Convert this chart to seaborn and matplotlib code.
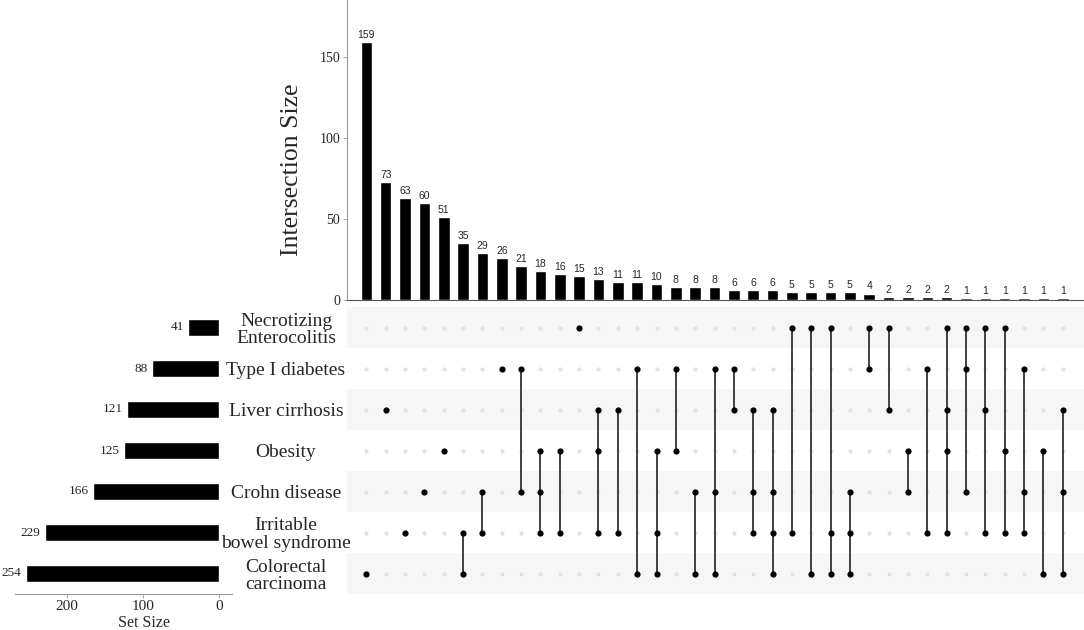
import numpy as np
import pandas as pd
import matplotlib
matplotlib.use("Agg")
import matplotlib.pyplot as plt
import seaborn as sns

# ---------------- data ----------------
set_codes = ["NEC", "T1D", "LC", "OB", "CD", "IBS", "CRC"]
set_names = ["Necrotizing\nEnterocolitis", "Type I diabetes", "Liver cirrhosis",
             "Obesity", "Crohn disease", "Irritable\nbowel syndrome",
             "Colorectal\ncarcinoma"]
set_sizes = [41, 88, 121, 125, 166, 229, 254]

intersection_sizes = [159, 73, 63, 60, 51, 35, 29, 26, 21, 18, 16, 15, 13, 11, 11,
                      10, 8, 8, 8, 6, 6, 6, 5, 5, 5, 5, 4, 2, 2, 2, 2,
                      1, 1, 1, 1, 1, 1]
intersection_members = [
    ["CRC"], ["LC"], ["IBS"], ["CD"], ["OB"], ["IBS", "CRC"], ["CD", "IBS"],
    ["T1D"], ["T1D", "CD"], ["OB", "CD", "IBS"], ["OB", "IBS"], ["NEC"],
    ["LC", "OB", "IBS"], ["LC", "IBS"], ["T1D", "CRC"], ["OB", "IBS", "CRC"],
    ["T1D", "OB"], ["CD", "CRC"], ["T1D", "CD", "CRC"], ["T1D", "LC"],
    ["LC", "CD", "IBS"], ["LC", "CD", "IBS", "CRC"], ["NEC", "IBS"],
    ["NEC", "CRC"], ["NEC", "IBS", "CRC"], ["CD", "IBS", "CRC"],
    ["NEC", "T1D"], ["NEC", "LC"], ["OB", "CD"], ["T1D", "IBS"],
    ["NEC", "LC", "OB", "IBS"], ["NEC", "T1D", "CD"], ["NEC", "LC", "IBS"],
    ["NEC", "OB", "IBS"], ["T1D", "CD", "IBS"], ["OB", "CRC"], ["LC", "CD", "CRC"],
]

# ---------------- style ----------------
sns.set_theme(style="white")
plt.rcParams['font.family'] = ['Liberation Serif', 'DejaVu Serif']
SANS = ['Liberation Sans', 'DejaVu Sans']

W, H = 1084, 630
fig = plt.figure(figsize=(W / 100, H / 100), dpi=100)

def frac(x0, y0, x1, y1):
    return [x0 / W, 1 - y1 / H, (x1 - x0) / W, (y1 - y0) / H]

ax_bar = fig.add_axes(frac(347, 0, 1084, 300))
ax_set = fig.add_axes(frac(15, 307, 232, 594))
ax_mat = fig.add_axes(frac(347, 307, 1084, 594))
ax_set.patch.set_visible(False)
ax_mat.patch.set_visible(False)

n = len(intersection_sizes)
xlim = (-1, 37.1)

# ---------------- intersection bars ----------------
bar_df = pd.DataFrame({"idx": np.arange(n), "size": intersection_sizes})
sns.barplot(data=bar_df, x="idx", y="size", color="black", saturation=1,
            width=0.6, native_scale=True, errorbar=None, ax=ax_bar)
ax_bar.bar_label(ax_bar.containers[0], labels=[str(v) for v in intersection_sizes],
                 padding=1.5, fontsize=7.5, family=SANS)
ax_bar.set_xlim(*xlim)
ax_bar.set_ylim(0, 185)
ax_bar.set_yticks([0, 50, 100, 150])
ax_bar.set_xticks([])
ax_bar.set_xlabel("")
ax_bar.set_ylabel("Intersection Size", fontsize=18.5)
ax_bar.yaxis.set_label_coords((303 - 347) / 737, 1 - 170 / 300)
for s in ["top", "right"]:
    ax_bar.spines[s].set_visible(False)
ax_bar.spines["left"].set_color("#999999")
ax_bar.spines["left"].set_linewidth(0.8)
ax_bar.spines["bottom"].set_color("#555555")
ax_bar.spines["bottom"].set_linewidth(0.8)
ax_bar.tick_params(axis="y", length=3, width=0.6, color="#999999", labelsize=10, pad=2,
                   left=True)

# ---------------- matrix ----------------
rows = []
for ci, members in enumerate(intersection_members):
    for ri, code in enumerate(set_codes):
        rows.append({"col": ci, "row": ri, "active": code in members})
mat_df = pd.DataFrame(rows)

for r in range(0, len(set_codes), 2):
    ax_mat.axhspan(r - 0.5, r + 0.5, color="#f6f6f6", zorder=0, lw=0)

sns.scatterplot(data=mat_df[~mat_df.active], x="col", y="row", color="#e2e2e2",
                s=9, linewidth=0, ax=ax_mat, zorder=2)
for ci, grp in mat_df[mat_df.active].groupby("col"):
    ax_mat.vlines(ci, grp.row.min(), grp.row.max(), color="#333333", lw=1.3, zorder=3)
sns.scatterplot(data=mat_df[mat_df.active], x="col", y="row", color="black",
                s=20, linewidth=0, ax=ax_mat, zorder=4)
ax_mat.set_xlim(*xlim)
ax_mat.set_ylim(len(set_codes) - 0.5, -0.5)
ax_mat.set_xticks([])
ax_mat.set_yticks(range(len(set_codes)))
ax_mat.set_yticklabels(set_names, fontsize=14, ha="center", linespacing=1.05)
ax_mat.tick_params(axis="y", length=0, pad=(347 - 286) * 0.72)
ax_mat.set_xlabel("")
ax_mat.set_ylabel("")
for s in ax_mat.spines.values():
    s.set_visible(False)

# ---------------- set size bars ----------------
set_df = pd.DataFrame({"pos": np.arange(len(set_codes)), "size": set_sizes})
sns.barplot(data=set_df, x="size", y="pos", orient="h", color="black", saturation=1,
            width=0.41, native_scale=True, errorbar=None, ax=ax_set)
for pos, size in zip(set_df["pos"], set_df["size"]):
    ax_set.annotate(str(size), (size, pos), xytext=(-3, 0), textcoords="offset points",
                    ha="right", va="center", fontsize=9.5)
ax_set.set_xlim(268, -17)
ax_set.set_ylim(len(set_codes) - 0.5, -0.5)
ax_set.set_yticks([])
ax_set.set_xticks([0, 100, 200])
ax_set.tick_params(axis="x", length=3, width=0.6, color="#999999", labelsize=11, pad=1.5,
                   bottom=True)
ax_set.set_ylabel("")
ax_set.set_xlabel("Set Size", fontsize=11.5)
ax_set.xaxis.set_label_coords((144 - 15) / 217, -21 / 287)
for s in ["top", "left", "right"]:
    ax_set.spines[s].set_visible(False)
ax_set.spines["bottom"].set_color("#999999")
ax_set.spines["bottom"].set_linewidth(0.8)

fig.savefig("out.png", dpi=100)
